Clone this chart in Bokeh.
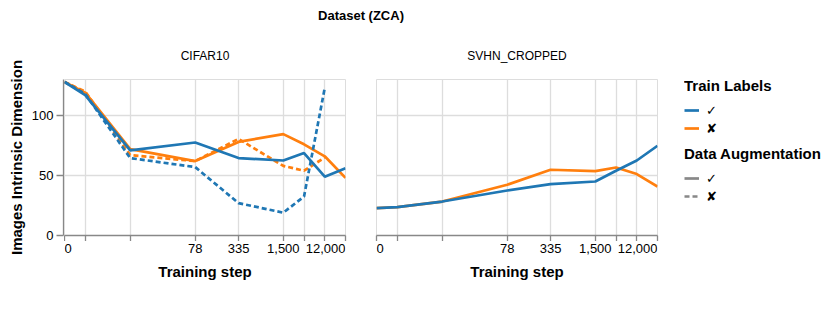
import numpy as np
from bokeh.plotting import figure
from bokeh.models import (Range1d, FixedTicker, Legend, LegendItem, Label)
from bokeh.layouts import row, column
from bokeh.embed import file_html
from bokeh.resources import INLINE

# ---------------- data ----------------
steps = [0, 1, 8, 78, 335, 1500, 3000, 6000, 12000]
labeled_steps = [0, 78, 335, 1500, 12000]
y_ticks = [0, 50, 100]
y_max = 130

# CIFAR10
cifar_labels_aug = [128, 117, 71, 77.5, 64.5, 62.5, 68.7, 49, 56]
cifar_labels_noaug = [128, 118, 64.5, 57, 27, 19, 32.5, 123]
cifar_nolabels_aug = [128, 119, 72, 62, 78, 84.5, 76, 66, 48]
cifar_nolabels_noaug = [128, 120, 67, 62, 80.5, 58, 54, 65]

# SVHN_CROPPED
svhn_labels_aug = [22.8, 23.6, 28.3, 37.5, 42.8, 45, 54, 62.5, 74.8]
svhn_nolabels_aug = [22.8, 23.6, 28.3, 42.3, 54.8, 53.7, 56.7, 51.2, 40.8]

panel_titles = ["CIFAR10", "SVHN_CROPPED"]
main_title = "Dataset (ZCA)"
x_title = "Training step"
y_title = "Images Intrinsic Dimension"
legend1_title = "Train Labels"
legend2_title = "Data Augmentation"
check_labels = ["\u2713", "\u2718"]

BLUE = "#1f77b4"
ORANGE = "#ff7f0e"
GRAY = "#888888"
FONT = "Liberation Sans"
LW = 2.7
DASH = "5 3"
X_TICK_OUT = 6

def symlog(v):
    return np.log1p(np.asarray(v, dtype=float))

tick_pos = [float(t) for t in symlog(steps)]
X_END = float(symlog(steps[-1]))

# layout constants (pixels)
FRAME_W = 281
FRAME_H = 156
PANEL_TOP = 9
PANEL_BOTTOM = X_TICK_OUT
PANEL_H = PANEL_TOP + FRAME_H + PANEL_BOTTOM
HEAD_H = 29
FACET_H = 41
FOOT_H = 50
YAXIS_W = 64
BORDERS = [(0, 15), (16, 10)]

def blank_fig(width, height, bl, br, x_range, y_range):
    f = figure(width=width, height=height, toolbar_location=None, output_backend="svg",
               x_range=x_range, y_range=y_range,
               x_axis_location=None, y_axis_location=None,
               min_border=0, min_border_left=bl, min_border_right=br)
    f.outline_line_color = None
    f.grid.visible = False
    return f

def make_panel(bl, br):
    p = figure(width=bl + FRAME_W + br, height=PANEL_H,
               x_range=Range1d(0, X_END), y_range=Range1d(0, y_max),
               toolbar_location=None, output_backend="svg",
               min_border_left=bl, min_border_right=br,
               min_border_top=PANEL_TOP, min_border_bottom=PANEL_BOTTOM,
               y_axis_location=None)
    p.outline_line_color = "#dddddd"
    p.outline_line_width = 1
    p.background_fill_color = "white"
    p.border_fill_color = "white"

    p.xgrid.ticker = FixedTicker(ticks=tick_pos)
    p.ygrid.ticker = FixedTicker(ticks=y_ticks)
    for g in (p.xgrid, p.ygrid):
        g.grid_line_color = "#dddddd"
        g.grid_line_width = 1.3

    ax = p.xaxis[0]
    ax.ticker = FixedTicker(ticks=tick_pos)
    ax.major_label_text_font_size = "0px"
    ax.major_label_text_color = None
    ax.major_label_standoff = 0
    ax.major_tick_out = X_TICK_OUT
    ax.major_tick_in = 0
    ax.axis_line_color = GRAY
    ax.axis_line_width = 1.3
    ax.major_tick_line_color = GRAY
    ax.major_tick_line_width = 1.3
    ax.minor_tick_line_color = None
    return p

def make_footer(panel, bl, br):
    # x tick labels (first flush-left, last flush-right, like Vega) + axis title,
    # positioned through the panel's own x range
    f = blank_fig(panel.width, FOOT_H, bl, br, panel.x_range, Range1d(FOOT_H, 0))
    n = len(labeled_steps)
    for i, v in enumerate(labeled_steps):
        align = "left" if i == 0 else ("right" if i == n - 1 else "center")
        f.add_layout(Label(x=float(symlog(v)), y=7, text=f"{v:,}", text_align=align,
                           text_baseline="middle", text_font=FONT,
                           text_font_size="13px", text_color="#000000"))
    f.add_layout(Label(x=X_END / 2, y=29.5, text=x_title, text_align="center",
                       text_baseline="middle", text_font=FONT, text_font_size="15px",
                       text_font_style="bold", text_color="#000000"))
    return f

def make_facet_header(panel, bl, br, title):
    f = blank_fig(panel.width, FACET_H, bl, br, panel.x_range, Range1d(FACET_H, 0))
    f.add_layout(Label(x=X_END / 2, y=26.5, text=title, text_align="center",
                       text_baseline="middle", text_font=FONT, text_font_size="12px",
                       text_color="#000000"))
    return f

x = symlog(steps)

p1 = make_panel(*BORDERS[0])
p1.line(x[:len(cifar_nolabels_noaug)], cifar_nolabels_noaug, color=ORANGE,
        line_width=LW, line_dash=DASH)
p1.line(x[:len(cifar_nolabels_aug)], cifar_nolabels_aug, color=ORANGE, line_width=LW)
p1.line(x[:len(cifar_labels_noaug)], cifar_labels_noaug, color=BLUE,
        line_width=LW, line_dash=DASH)
p1.line(x[:len(cifar_labels_aug)], cifar_labels_aug, color=BLUE, line_width=LW)

p2 = make_panel(*BORDERS[1])
p2.line(x[:len(svhn_nolabels_aug)], svhn_nolabels_aug, color=ORANGE, line_width=LW)
p2.line(x[:len(svhn_labels_aug)], svhn_labels_aug, color=BLUE, line_width=LW)

h1 = make_facet_header(p1, *BORDERS[0], panel_titles[0])
h2 = make_facet_header(p2, *BORDERS[1], panel_titles[1])
f1 = make_footer(p1, *BORDERS[0])
f2 = make_footer(p2, *BORDERS[1])

# ---------------- shared y axis (full height, so its title is not clipped) ----
TOTAL_H = HEAD_H + FACET_H + PANEL_H + FOOT_H
py = figure(width=YAXIS_W, height=TOTAL_H, toolbar_location=None, output_backend="svg",
            x_range=Range1d(0, 1), y_range=p1.y_range,
            x_axis_location=None, y_axis_location="left",
            min_border_left=YAXIS_W - 1, min_border_right=0,
            min_border_top=HEAD_H + FACET_H + PANEL_TOP,
            min_border_bottom=PANEL_BOTTOM + FOOT_H)
py.outline_line_color = None
py.grid.visible = False
ay = py.yaxis[0]
ay.ticker = FixedTicker(ticks=y_ticks)
ay.axis_label = y_title
ay.major_tick_out = 7
ay.major_tick_in = 0
ay.major_label_standoff = 3
ay.axis_label_standoff = 4
ay.major_label_text_font = FONT
ay.major_label_text_font_size = "13px"
ay.major_label_text_color = "#000000"
ay.axis_label_text_font = FONT
ay.axis_label_text_font_size = "15px"
ay.axis_label_text_font_style = "bold"
ay.axis_label_text_color = "#000000"
ay.axis_line_color = GRAY
ay.axis_line_width = 1.3
ay.major_tick_line_color = GRAY
ay.major_tick_line_width = 1.3
ay.minor_tick_line_color = None

# ---------------- legends ----------------
def style_legend(lg):
    lg.location = "top_left"
    lg.padding = 0
    lg.margin = 0
    lg.border_line_color = None
    lg.background_fill_alpha = 0
    lg.spacing = 2
    lg.label_height = 16
    lg.glyph_height = 16
    lg.glyph_width = 15
    lg.label_standoff = 7
    lg.title_standoff = 8
    lg.title_text_font = FONT
    lg.title_text_font_size = "15px"
    lg.title_text_font_style = "bold"
    lg.title_text_color = "#000000"
    lg.label_text_font = "DejaVu Sans"
    lg.label_text_font_size = "13px"
    lg.label_text_color = "#000000"

def legend_fig(height, top, title, colors, dashes):
    f = figure(width=160, height=height, toolbar_location=None, output_backend="svg",
               x_range=Range1d(0, 1), y_range=Range1d(0, 1),
               x_axis_location=None, y_axis_location=None,
               min_border=0, min_border_left=17, min_border_top=top)
    f.outline_line_color = None
    f.grid.visible = False
    items = []
    for lab, c, d in zip(check_labels, colors, dashes):
        r = f.line([float("nan")], [float("nan")], color=c, line_width=LW, line_dash=d)
        items.append(LegendItem(label=lab, renderers=[r]))
    lg = Legend(items=items, title=title)
    style_legend(lg)
    f.add_layout(lg, "center")
    return f

LEG1_H = 75
lf1 = legend_fig(LEG1_H, 7, legend1_title, [BLUE, ORANGE], ["solid", "solid"])
lf2 = legend_fig(PANEL_H - LEG1_H, 0, legend2_title, [GRAY, GRAY], ["solid", DASH])

# ---------------- main title ----------------
head_w = p1.width + BORDERS[1][0] + FRAME_W
ph = blank_fig(head_w, HEAD_H, 0, 0, Range1d(0, 1), Range1d(0, 1))
ph.add_layout(Label(x=0.5, y=0.5, text=main_title, text_align="center",
                    text_baseline="middle", text_font=FONT, text_font_size="13px",
                    text_font_style="bold", text_color="#000000"))

layout = row(py, column(ph, row(h1, h2), row(p1, p2, column(lf1, lf2)), row(f1, f2)))
open("out.html", "w").write(file_html(layout, INLINE))
